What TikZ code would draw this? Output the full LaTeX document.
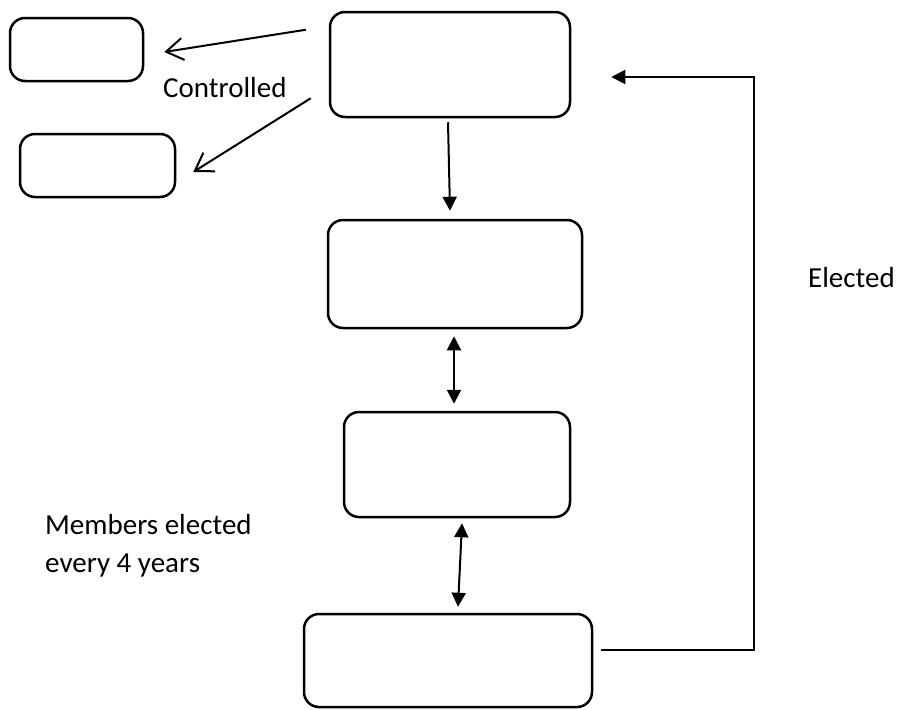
\documentclass[tikz,border=0pt]{standalone}
\usepackage{fontspec}
\setmainfont{Carlito}
\usetikzlibrary{arrows.meta}

\begin{document}
\begin{tikzpicture}[x=1pt,y=-1pt,
  box/.style={draw, line width=2.5pt, rounded corners=15pt, inner sep=0pt},
  lbl/.style={inner sep=0pt, font=\fontsize{29}{38}\selectfont},
  fat/.style={line width=2pt, -{Triangle[length=14pt,width=14pt]}},
  fatboth/.style={line width=2pt, {Triangle[length=14pt,width=14pt]}-{Triangle[length=14pt,width=14pt]}},
  thin/.style={line width=2pt, -{Straight Barb[length=17pt,width=22pt]}}]
\useasboundingbox (0,0) rectangle (898,710);
%boxes
\node[box, minimum width=133pt, minimum height=63pt] (ctrlA) at (76.5,49.5) {};
\node[box, minimum width=155pt, minimum height=63pt] (ctrlB) at (97.5,165.5) {};
\node[box, minimum width=240pt, minimum height=105pt] (topbox) at (450,64.5) {};
\node[box, minimum width=254pt, minimum height=108pt] (secbox) at (455,274) {};
\node[box, minimum width=226pt, minimum height=105pt] (thirdbox) at (457,464.5) {};
\node[box, minimum width=288pt, minimum height=93pt] (lowbox) at (448,660.5) {};
%texts
\node[lbl, anchor=base west] (ctrltxt) at (163,97) {Controlled};
\node[lbl, anchor=base west] (electtxt) at (808,287) {Elected};
\node[lbl, anchor=north west, align=left] (membtxt) at (45,514) {Members elected\\every 4 years};
%controlled
\draw[thin] ([shift={(-23,19)}]topbox.north west) -- ([shift={(20,2.5)}]ctrlA.east);
\draw[thin] ([shift={(-18,-20)}]topbox.south west) -- ([shift={(17,6.5)}]ctrlB.east);
%chain
\draw[fat] ([shift={(-2,4)}]topbox.south) -- ([shift={(-5,-8)}]secbox.north);
\draw[fatboth] ([shift={(-1,7)}]secbox.south) -- ([shift={(-3,-7)}]thirdbox.north);
\draw[fatboth] ([shift={(5,5)}]thirdbox.south) -- ([shift={(10,-6)}]lowbox.north);
%elected
\draw[fat] ([shift={(8,-10.5)}]lowbox.east) -- ++(153,0) |- ([shift={(40,12.5)}]topbox.east);
\end{tikzpicture}
\end{document}
